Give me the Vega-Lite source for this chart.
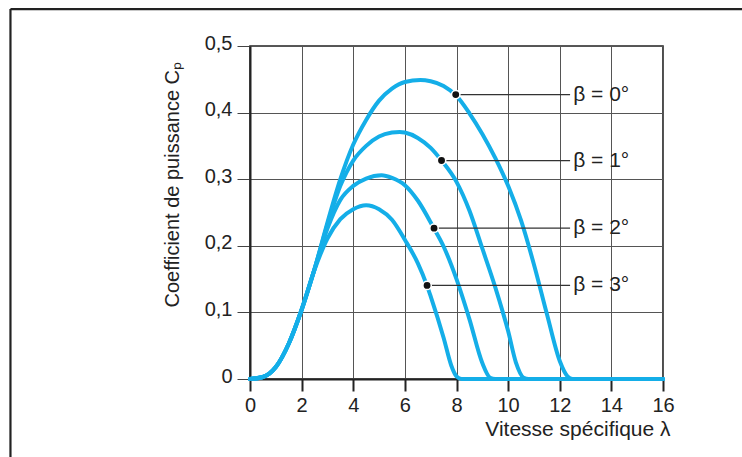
{
  "$schema": "https://vega.github.io/schema/vega-lite/v6.json",
  "width": 413,
  "height": 333,
  "autosize": {"type": "none"},
  "padding": {"left": 250, "top": 46, "right": 79, "bottom": 78},
  "background": "white",
  "config": {
    "view": {"stroke": "#222", "strokeWidth": 1.6},
    "font": "Liberation Sans"
  },
  "datasets": {
    "curves": [
      {"beta": "0", "lambda": 0, "cp": 0}, {"beta": "0", "lambda": 0.5, "cp": 0.003}, {"beta": "0", "lambda": 1, "cp": 0.018}, {"beta": "0", "lambda": 1.5, "cp": 0.053}, {"beta": "0", "lambda": 2, "cp": 0.104}, {"beta": "0", "lambda": 2.5, "cp": 0.165}, {"beta": "0", "lambda": 3, "cp": 0.235}, {"beta": "0", "lambda": 3.5, "cp": 0.3}, {"beta": "0", "lambda": 4, "cp": 0.352}, {"beta": "0", "lambda": 4.5, "cp": 0.389}, {"beta": "0", "lambda": 5, "cp": 0.418}, {"beta": "0", "lambda": 5.5, "cp": 0.436}, {"beta": "0", "lambda": 6, "cp": 0.446}, {"beta": "0", "lambda": 6.6, "cp": 0.449}, {"beta": "0", "lambda": 7, "cp": 0.447}, {"beta": "0", "lambda": 7.5, "cp": 0.44}, {"beta": "0", "lambda": 8, "cp": 0.425}, {"beta": "0", "lambda": 8.5, "cp": 0.399}, {"beta": "0", "lambda": 9, "cp": 0.368}, {"beta": "0", "lambda": 9.5, "cp": 0.332}, {"beta": "0", "lambda": 10, "cp": 0.29}, {"beta": "0", "lambda": 10.5, "cp": 0.238}, {"beta": "0", "lambda": 11, "cp": 0.172}, {"beta": "0", "lambda": 11.5, "cp": 0.098}, {"beta": "0", "lambda": 12, "cp": 0.027}, {"beta": "0", "lambda": 12.3, "cp": 0.004}, {"beta": "0", "lambda": 12.5, "cp": 0}, {"beta": "0", "lambda": 16, "cp": 0},
      {"beta": "1", "lambda": 0, "cp": 0}, {"beta": "1", "lambda": 0.5, "cp": 0.003}, {"beta": "1", "lambda": 1, "cp": 0.018}, {"beta": "1", "lambda": 1.5, "cp": 0.053}, {"beta": "1", "lambda": 2, "cp": 0.104}, {"beta": "1", "lambda": 2.5, "cp": 0.165}, {"beta": "1", "lambda": 3, "cp": 0.232}, {"beta": "1", "lambda": 3.5, "cp": 0.29}, {"beta": "1", "lambda": 4, "cp": 0.328}, {"beta": "1", "lambda": 4.5, "cp": 0.35}, {"beta": "1", "lambda": 5, "cp": 0.364}, {"beta": "1", "lambda": 5.5, "cp": 0.37}, {"beta": "1", "lambda": 5.8, "cp": 0.371}, {"beta": "1", "lambda": 6, "cp": 0.37}, {"beta": "1", "lambda": 6.5, "cp": 0.362}, {"beta": "1", "lambda": 7, "cp": 0.347}, {"beta": "1", "lambda": 7.4, "cp": 0.329}, {"beta": "1", "lambda": 8, "cp": 0.296}, {"beta": "1", "lambda": 8.5, "cp": 0.253}, {"beta": "1", "lambda": 9, "cp": 0.196}, {"beta": "1", "lambda": 9.5, "cp": 0.138}, {"beta": "1", "lambda": 10, "cp": 0.072}, {"beta": "1", "lambda": 10.3, "cp": 0.025}, {"beta": "1", "lambda": 10.6, "cp": 0.002}, {"beta": "1", "lambda": 10.8, "cp": 0}, {"beta": "1", "lambda": 16, "cp": 0},
      {"beta": "2", "lambda": 0, "cp": 0}, {"beta": "2", "lambda": 0.5, "cp": 0.003}, {"beta": "2", "lambda": 1, "cp": 0.018}, {"beta": "2", "lambda": 1.5, "cp": 0.053}, {"beta": "2", "lambda": 2, "cp": 0.104}, {"beta": "2", "lambda": 2.5, "cp": 0.165}, {"beta": "2", "lambda": 3, "cp": 0.226}, {"beta": "2", "lambda": 3.5, "cp": 0.269}, {"beta": "2", "lambda": 4, "cp": 0.29}, {"beta": "2", "lambda": 4.5, "cp": 0.301}, {"beta": "2", "lambda": 5.1, "cp": 0.306}, {"beta": "2", "lambda": 5.5, "cp": 0.302}, {"beta": "2", "lambda": 6, "cp": 0.291}, {"beta": "2", "lambda": 6.5, "cp": 0.268}, {"beta": "2", "lambda": 7.1, "cp": 0.228}, {"beta": "2", "lambda": 7.5, "cp": 0.199}, {"beta": "2", "lambda": 8, "cp": 0.15}, {"beta": "2", "lambda": 8.5, "cp": 0.09}, {"beta": "2", "lambda": 9, "cp": 0.024}, {"beta": "2", "lambda": 9.3, "cp": 0.002}, {"beta": "2", "lambda": 9.5, "cp": 0}, {"beta": "2", "lambda": 16, "cp": 0},
      {"beta": "3", "lambda": 0, "cp": 0}, {"beta": "3", "lambda": 0.5, "cp": 0.003}, {"beta": "3", "lambda": 1, "cp": 0.018}, {"beta": "3", "lambda": 1.5, "cp": 0.053}, {"beta": "3", "lambda": 2, "cp": 0.104}, {"beta": "3", "lambda": 2.5, "cp": 0.164}, {"beta": "3", "lambda": 3, "cp": 0.211}, {"beta": "3", "lambda": 3.5, "cp": 0.24}, {"beta": "3", "lambda": 4, "cp": 0.255}, {"beta": "3", "lambda": 4.5, "cp": 0.261}, {"beta": "3", "lambda": 5, "cp": 0.255}, {"beta": "3", "lambda": 5.5, "cp": 0.239}, {"beta": "3", "lambda": 6, "cp": 0.209}, {"beta": "3", "lambda": 6.5, "cp": 0.174}, {"beta": "3", "lambda": 6.85, "cp": 0.141}, {"beta": "3", "lambda": 7, "cp": 0.124}, {"beta": "3", "lambda": 7.5, "cp": 0.062}, {"beta": "3", "lambda": 7.8, "cp": 0.02}, {"beta": "3", "lambda": 8, "cp": 0.004}, {"beta": "3", "lambda": 8.2, "cp": 0}, {"beta": "3", "lambda": 16, "cp": 0}
    ],
    "labels": [
      {"beta": "0", "lambda": 7.97, "cp": 0.427, "label": "β = 0°"},
      {"beta": "1", "lambda": 7.42, "cp": 0.328, "label": "β = 1°"},
      {"beta": "2", "lambda": 7.13, "cp": 0.2265, "label": "β = 2°"},
      {"beta": "3", "lambda": 6.86, "cp": 0.1405, "label": "β = 3°"}
    ]
  },
  "layer": [
    {
      "data": {"name": "curves"},
      "mark": {"type": "line", "interpolate": "monotone", "strokeWidth": 4, "color": "#14aee8", "strokeCap": "round"},
      "encoding": {
        "x": {
          "field": "lambda", "type": "quantitative",
          "scale": {"domain": [0, 16], "nice": false, "zero": false},
          "axis": {
            "values": [0, 2, 4, 6, 8, 10, 12, 14, 16],
            "title": "Vitesse spécifique λ",
            "titleFont": "Liberation Sans", "titleFontSize": 21, "titleFontWeight": "normal", "titleColor": "#222",
            "titleAlign": "right", "titleBaseline": "alphabetic", "titleX": 420, "titleY": 56,
            "labelFont": "Liberation Sans", "labelFontSize": 20, "labelColor": "#222", "labelPadding": 4, "labelFlush": false,
            "tickSize": 12, "tickWidth": 2, "tickColor": "#222",
            "domainColor": "#222", "domainWidth": 2,
            "grid": true, "gridColor": "#555", "gridWidth": 1
          }
        },
        "y": {
          "field": "cp", "type": "quantitative",
          "scale": {"domain": [0, 0.5], "nice": false},
          "axis": {
            "values": [0, 0.1, 0.2, 0.3, 0.4, 0.5],
            "labelExpr": "datum.value == 0 ? '0' : replace(format(datum.value, '.1f'), '.', ',')",
            "title": "Coefficient de puissance Cₚ",
            "titleFont": "Liberation Sans", "titleFontSize": 20, "titleFontWeight": "normal", "titleColor": "#222",
            "titleAngle": -90, "titleAlign": "left", "titleBaseline": "alphabetic", "titleX": -72, "titleY": 261,
            "labelFont": "Liberation Sans", "labelFontSize": 20, "labelColor": "#222", "labelPadding": 5, "labelOffset": -3, "labelFlush": false,
            "tickSize": 13, "tickWidth": 1, "tickColor": "#444",
            "domainColor": "#222", "domainWidth": 2,
            "grid": true, "gridColor": "#555", "gridWidth": 1
          }
        },
        "detail": {"field": "beta", "type": "nominal"}
      }
    },
    {
      "data": {"name": "labels"},
      "mark": {"type": "rule", "color": "#333", "strokeWidth": 1.2},
      "encoding": {
        "x": {"field": "lambda", "type": "quantitative"},
        "x2": {"datum": 12.4},
        "y": {"field": "cp", "type": "quantitative"}
      }
    },
    {
      "data": {"name": "labels"},
      "mark": {"type": "point", "filled": true, "color": "#111", "size": 70, "stroke": "white", "strokeWidth": 1.5, "opacity": 1},
      "encoding": {
        "x": {"field": "lambda", "type": "quantitative"},
        "y": {"field": "cp", "type": "quantitative"}
      }
    },
    {
      "data": {"name": "labels"},
      "mark": {"type": "text", "align": "left", "baseline": "middle", "font": "Liberation Sans", "fontSize": 21, "color": "#222"},
      "encoding": {
        "x": {"datum": 12.52, "type": "quantitative"},
        "y": {"field": "cp", "type": "quantitative"},
        "text": {"field": "label"}
      }
    },
    {
      "data": {"values": [{}]},
      "mark": {"type": "rule", "color": "#222", "strokeWidth": 2.2},
      "encoding": {
        "x": {"datum": -9.28, "type": "quantitative"},
        "x2": {"datum": 19.5},
        "y": {"datum": 0.5554, "type": "quantitative"}
      }
    },
    {
      "data": {"values": [{}]},
      "mark": {"type": "rule", "color": "#222", "strokeWidth": 2.2},
      "encoding": {
        "x": {"datum": -9.28, "type": "quantitative"},
        "y": {"datum": 0.5554, "type": "quantitative"},
        "y2": {"datum": -0.2}
      }
    }
  ]
}
